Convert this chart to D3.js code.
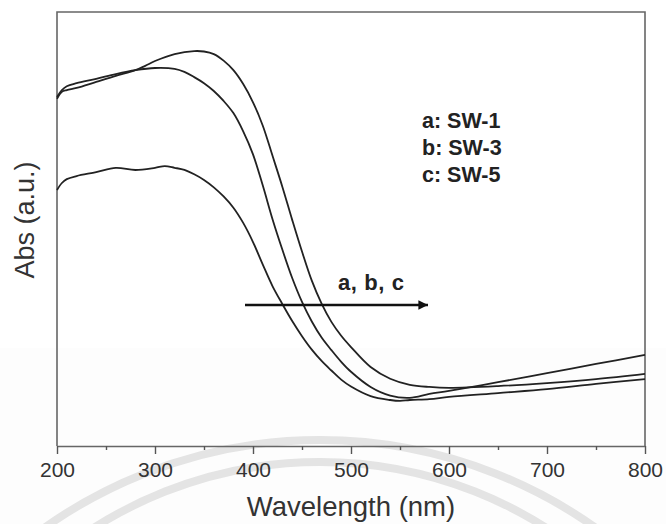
<!DOCTYPE html>
<html>
<head>
<meta charset="utf-8">
<script src="https://cdn.jsdelivr.net/npm/d3@7"></script>
<style>
  body { margin: 0; background: #fff; }
  svg { display: block; font-family: "Liberation Sans", Arial, sans-serif; }
</style>
</head>
<body>
<div id="chart"></div>
<script>
// wavelengths (nm) and absorbance (a.u.)
const nmA = [200, 205, 210, 220, 240, 260, 280, 300, 310, 320, 330, 340, 350, 360, 370, 380, 390, 400, 410, 420, 430, 440, 450, 460, 470, 480, 490, 500, 520, 540, 550, 560, 580, 600, 650, 700, 750, 800]
const absA = [0.590, 0.606, 0.615, 0.622, 0.631, 0.641, 0.636, 0.641, 0.645, 0.641, 0.636, 0.626, 0.613, 0.596, 0.575, 0.549, 0.514, 0.470, 0.418, 0.368, 0.327, 0.288, 0.253, 0.222, 0.196, 0.174, 0.153, 0.137, 0.115, 0.106, 0.104, 0.106, 0.108, 0.113, 0.122, 0.131, 0.143, 0.154]

const nmB = [200, 205, 210, 220, 240, 260, 280, 300, 320, 330, 340, 350, 360, 370, 380, 390, 400, 410, 420, 430, 440, 450, 460, 470, 480, 490, 500, 520, 540, 560, 580, 600, 650, 700, 750, 800]
const absB = [0.804, 0.820, 0.829, 0.836, 0.846, 0.857, 0.866, 0.871, 0.869, 0.862, 0.850, 0.836, 0.818, 0.795, 0.767, 0.725, 0.672, 0.600, 0.522, 0.452, 0.387, 0.332, 0.287, 0.250, 0.221, 0.194, 0.171, 0.136, 0.116, 0.111, 0.120, 0.127, 0.147, 0.168, 0.189, 0.210]

const nmC = [200, 205, 210, 220, 240, 260, 280, 290, 300, 320, 340, 350, 360, 370, 380, 390, 400, 410, 420, 430, 440, 450, 460, 470, 480, 490, 500, 520, 540, 560, 580, 600, 650, 700, 750, 800]
const absC = [0.800, 0.816, 0.820, 0.825, 0.839, 0.853, 0.866, 0.876, 0.887, 0.903, 0.910, 0.909, 0.903, 0.888, 0.866, 0.834, 0.792, 0.738, 0.668, 0.597, 0.521, 0.448, 0.381, 0.328, 0.286, 0.254, 0.228, 0.182, 0.155, 0.141, 0.136, 0.134, 0.138, 0.145, 0.154, 0.166]

const xTicks = [200, 300, 400, 500, 600, 700, 800]
const xMinorTicks = [250, 350, 450, 550, 650, 750]
const legendLabels = ['a: SW-1', 'b: SW-3', 'c: SW-5']

const width = 666, height = 524
const margin = {top: 12, right: 21, bottom: 78, left: 57}
const innerW = width - margin.left - margin.right
const innerH = height - margin.top - margin.bottom

const svg = d3.select('#chart').append('svg')
  .attr('width', width)
  .attr('height', height)

// faint watermark behind the chart
svg.append('rect')
  .attr('x', 0).attr('y', 348)
  .attr('width', width).attr('height', height - 348)
  .attr('fill', '#fdfdfd')
const wm = svg.append('g').attr('fill', 'none').attr('stroke', '#e4e4e4').attr('stroke-width', 8)
wm.append('circle').attr('cx', 320).attr('cy', 916).attr('r', 476)
wm.append('circle').attr('cx', 320).attr('cy', 883).attr('r', 421)

const x = d3.scaleLinear().domain([200, 800]).range([0, innerW])
const y = d3.scaleLinear().domain([0, 1]).range([innerH, 0])

const g = svg.append('g').attr('transform', `translate(${margin.left},${margin.top})`)

// frame (left, top, right)
g.append('path')
  .attr('d', `M0,${innerH}V0H${innerW}V${innerH}`)
  .attr('fill', 'none')
  .attr('stroke', '#666')
  .attr('stroke-width', 1.6)

const line = d3.line()
  .x(d => x(d[0]))
  .y(d => y(d[1]))
  .curve(d3.curveCatmullRom.alpha(0.5))

const series = [
  d3.zip(nmA, absA),
  d3.zip(nmB, absB),
  d3.zip(nmC, absC),
]

g.selectAll('path.curve')
  .data(series)
  .enter().append('path')
  .attr('class', 'curve')
  .attr('d', line)
  .attr('fill', 'none')
  .attr('stroke', '#222')
  .attr('stroke-width', 1.8)

// x axis
const xAxis = g.append('g')
  .attr('transform', `translate(0,${innerH})`)
  .call(d3.axisBottom(x).tickValues(xTicks).tickSize(8).tickSizeOuter(0).tickPadding(8).tickFormat(d3.format('d')))
xAxis.select('.domain').attr('stroke', '#666').attr('stroke-width', 1.6)
xAxis.selectAll('.tick line').attr('stroke', '#555').attr('stroke-width', 1.4)
xAxis.selectAll('.tick text')
  .attr('font-size', 21)
  .attr('fill', '#333')
  .attr('font-family', '"Liberation Sans", Arial, sans-serif')

const xMinor = g.append('g')
  .attr('transform', `translate(0,${innerH})`)
  .call(d3.axisBottom(x).tickValues(xMinorTicks).tickSize(4).tickFormat(''))
xMinor.select('.domain').remove()
xMinor.selectAll('.tick line').attr('stroke', '#555').attr('stroke-width', 1.4)

// axis titles
svg.append('text')
  .attr('x', margin.left + innerW / 2)
  .attr('y', 516)
  .attr('text-anchor', 'middle')
  .attr('font-size', 27.5)
  .attr('fill', '#333')
  .text('Wavelength (nm)')

svg.append('text')
  .attr('transform', `translate(34,220) rotate(-90)`)
  .attr('text-anchor', 'middle')
  .attr('font-size', 27)
  .attr('fill', '#333')
  .text('Abs (a.u.)')

// legend text
svg.append('g')
  .selectAll('text')
  .data(legendLabels)
  .enter().append('text')
  .attr('x', 422)
  .attr('y', (d, i) => 128 + i * 27)
  .attr('font-size', 21.5)
  .attr('font-weight', 'bold')
  .attr('fill', '#222')
  .text(d => d)

// shift arrow
svg.append('defs').append('marker')
  .attr('id', 'head')
  .attr('viewBox', '0 0 10 10')
  .attr('refX', 10).attr('refY', 5)
  .attr('markerWidth', 5).attr('markerHeight', 4)
  .attr('orient', 'auto')
  .append('path')
  .attr('d', 'M0,0L10,5L0,10Z')
  .attr('fill', '#111')

svg.append('line')
  .attr('x1', 245).attr('y1', 305)
  .attr('x2', 428).attr('y2', 305)
  .attr('stroke', '#111')
  .attr('stroke-width', 2.4)
  .attr('marker-end', 'url(#head)')

svg.append('text')
  .attr('x', 338)
  .attr('y', 290)
  .attr('font-size', 22)
  .attr('font-weight', 'bold')
  .attr('letter-spacing', 0.6)
  .attr('fill', '#222')
  .text('a, b, c')
</script>
</body>
</html>
